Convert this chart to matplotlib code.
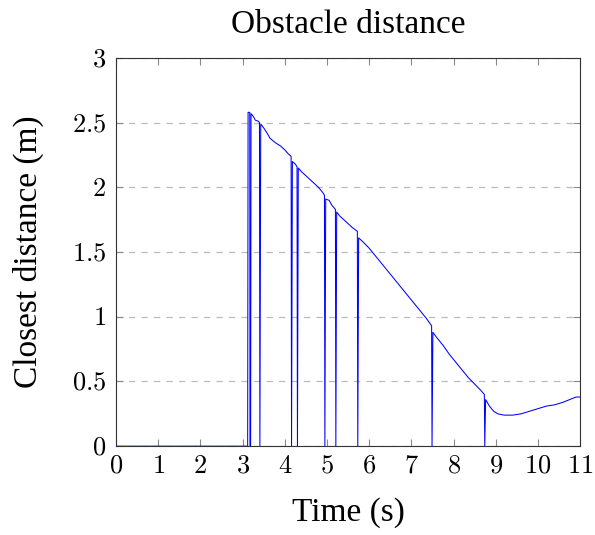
import numpy as np
import matplotlib
matplotlib.use('Agg')
import matplotlib.pyplot as plt

# closest obstacle distance (m) vs time (s)
time = [0.0, 3.12, 3.13, 3.17, 3.175, 3.19, 3.20, 3.25, 3.30, 3.38, 3.40, 3.41, 3.43,
        3.50, 3.58, 3.65, 3.72, 3.80, 3.90, 4.00, 4.08, 4.15, 4.16, 4.18, 4.25, 4.29,
        4.30, 4.32, 4.40, 4.50, 4.60, 4.70, 4.80, 4.90, 4.94, 4.95, 4.97, 5.05, 5.12,
        5.20, 5.21, 5.23, 5.30, 5.40, 5.50, 5.60, 5.72, 5.73, 5.75, 5.85, 6.00, 6.15,
        6.30, 6.45, 6.60, 6.75, 6.90, 7.05, 7.20, 7.35, 7.48, 7.49, 7.51, 7.60, 7.75,
        7.90, 8.05, 8.20, 8.35, 8.50, 8.65, 8.73, 8.74, 8.76, 8.85, 8.95, 9.05, 9.20,
        9.40, 9.60, 9.80, 10.00, 10.20, 10.40, 10.60, 10.75, 10.90, 11.0]
dist = [0.0, 0.0, 2.58, 2.58, 0.0, 0.0, 2.57, 2.55, 2.52, 2.51, 2.50, 0.0, 2.49,
        2.46, 2.42, 2.38, 2.36, 2.34, 2.32, 2.29, 2.26, 2.24, 0.0, 2.20, 2.18, 2.16,
        0.0, 2.15, 2.12, 2.09, 2.06, 2.03, 2.00, 1.96, 1.94, 0.0, 1.91, 1.90, 1.86,
        1.83, 0.0, 1.81, 1.78, 1.75, 1.72, 1.69, 1.66, 0.0, 1.61, 1.58, 1.53, 1.47,
        1.41, 1.35, 1.29, 1.23, 1.17, 1.11, 1.05, 0.99, 0.93, 0.0, 0.88, 0.84, 0.78,
        0.71, 0.65, 0.59, 0.53, 0.48, 0.43, 0.40, 0.0, 0.36, 0.31, 0.27, 0.25, 0.24,
        0.24, 0.25, 0.27, 0.29, 0.31, 0.32, 0.34, 0.36, 0.38, 0.38]

xticks = list(range(0, 12))
yticks = [0, 0.5, 1, 1.5, 2, 2.5, 3]
ylabels = ['0', '0.5', '1', '1.5', '2', '2.5', '3']

plt.rcParams['font.family'] = ['Liberation Serif']
plt.rcParams['mathtext.fontset'] = 'cm'

fig = plt.figure(figsize=(5.95, 5.35), dpi=100)
ax = fig.add_axes([0.195, 0.166, 0.78, 0.7256])

ax.plot(time, dist, color='blue', lw=0.75)

ax.set_xlim(0, 11)
ax.set_ylim(0, 3)
ax.set_xticks(xticks)
ax.set_xticklabels([f'${t}$' for t in xticks], fontsize=19)
ax.set_yticks(yticks)
ax.set_yticklabels([f'${l}$' for l in ylabels], fontsize=19)
ax.tick_params(direction='in', top=True, right=True, length=5, color='#888888', pad=7)
ax.yaxis.grid(True, linestyle=(0, (5, 5)), color='#bbbbbb', lw=0.9)
for s in ax.spines.values():
    s.set_color('#333333')

ax.set_title('Obstacle distance', fontsize=24, pad=18)
ax.set_xlabel('Time (s)', fontsize=24, labelpad=14)
ax.set_ylabel('Closest distance (m)', fontsize=24, labelpad=20)

fig.savefig('out.png', dpi=100)
